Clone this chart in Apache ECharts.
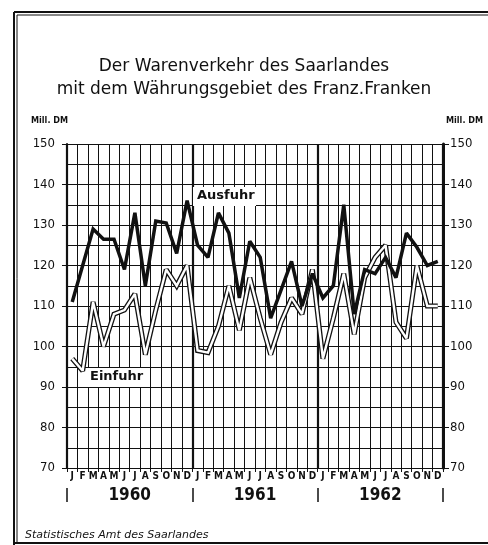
<!DOCTYPE html>
<html>
<head>
<meta charset="utf-8">
<script src="https://cdn.jsdelivr.net/npm/echarts@6/dist/echarts.min.js"></script>
<style>
  html, body { margin: 0; padding: 0; background: #fff; }
  #chart { width: 488px; height: 545px; }
</style>
</head>
<body>
<div id="chart"></div>
<script>
// Monatswerte in Mill. DM, Jan 1960 - Dez 1962
const years = ['1960', '1961', '1962']
const monthLetters = ['J', 'F', 'M', 'A', 'M', 'J', 'J', 'A', 'S', 'O', 'N', 'D']
const ausfuhr = [
  111, 120, 129, 126.5, 126.5, 119, 133, 115, 131, 130.5, 123, 136,
  125, 122, 133, 128, 112, 126, 122, 107, 114, 121, 110, 118,
  112, 115, 135, 108, 119, 118, 122, 117, 128, 124.5, 120, 121
]
const einfuhr = [
  97, 94, 111, 100, 108, 109, 113, 98, 109, 119, 115, 120,
  99, 98.5, 105, 115, 104, 117, 107, 98, 106, 112, 108, 119,
  97, 107, 118, 103, 117, 122, 125, 106, 102, 120, 110, 110
]
const yMin = 70
const yMax = 150
const yStep = 10

const categories = []
years.forEach(y => monthLetters.forEach((m, i) => categories.push(y + '-' + (i + 1))))

const ink = '#111'
const font = "'DejaVu Sans Condensed', 'Liberation Sans Narrow', 'DejaVu Sans', sans-serif"

const chart = echarts.init(document.getElementById('chart'))

const option = {
  animation: false,
  backgroundColor: '#fff',
  title: {
    text: 'Der Warenverkehr des Saarlandes\nmit dem Währungsgebiet des Franz.Franken',
    left: 'center',
    top: 50,
    textStyle: {
      fontFamily: 'DejaVu Sans, sans-serif',
      fontSize: 17,
      fontWeight: 'normal',
      lineHeight: 23,
      color: ink
    }
  },
  grid: { left: 67, right: 45, top: 144, bottom: 77 },
  xAxis: [
    {
      type: 'category',
      data: categories,
      boundaryGap: true,
      axisLine: { show: false },
      axisTick: { show: true, interval: 0, length: 4, lineStyle: { color: ink } },
      axisLabel: {
        interval: 0,
        margin: 3,
        fontSize: 10,
        fontWeight: 'bold',
        fontFamily: font,
        color: ink,
        formatter: v => monthLetters[Number(v.split('-')[1]) - 1]
      },
      splitLine: { show: true, interval: 0, lineStyle: { color: ink, width: 1 } }
    },
    {
      type: 'category',
      data: years,
      position: 'bottom',
      offset: 20,
      boundaryGap: true,
      axisLine: { show: false },
      axisTick: { show: true, interval: 0, length: 14, lineStyle: { color: ink, width: 1.5 } },
      axisLabel: {
        margin: -1,
        fontSize: 17,
        fontWeight: 'bold',
        fontFamily: font,
        color: ink
      },
      splitLine: { show: true, interval: 0, lineStyle: { color: ink, width: 2.2 } }
    }
  ],
  yAxis: [
    {
      type: 'value',
      position: 'left',
      min: yMin,
      max: yMax,
      interval: yStep,
      axisLine: { show: true, lineStyle: { color: ink, width: 2 } },
      axisTick: { show: true, length: 5, lineStyle: { color: ink } },
      axisLabel: { margin: 12, fontSize: 13, fontFamily: font, color: ink },
      splitLine: { show: true, lineStyle: { color: ink, width: 1 } },
      minorTick: { show: false, splitNumber: 2 },
      minorSplitLine: { show: true, lineStyle: { color: ink, width: 1 } }
    },
    {
      type: 'value',
      position: 'right',
      min: yMin,
      max: yMax,
      interval: yStep,
      axisLine: { show: true, lineStyle: { color: ink, width: 3 } },
      axisTick: { show: true, length: 6, lineStyle: { color: ink } },
      axisLabel: { margin: 7, fontSize: 13, fontFamily: font, color: ink },
      splitLine: { show: false }
    }
  ],
  series: [
    {
      name: 'Einfuhr Rand',
      type: 'line',
      data: einfuhr,
      symbol: 'none',
      silent: true,
      z: 2,
      lineStyle: { color: ink, width: 5, join: 'miter', miterLimit: 2 }
    },
    {
      name: 'Einfuhr',
      type: 'line',
      data: einfuhr,
      symbol: 'none',
      z: 3,
      lineStyle: { color: '#fff', width: 2.4, join: 'miter', miterLimit: 2 }
    },
    {
      name: 'Ausfuhr',
      type: 'line',
      data: ausfuhr,
      symbol: 'none',
      z: 4,
      lineStyle: { color: ink, width: 3.5, join: 'miter', miterLimit: 2 }
    }
  ],
  graphic: [
    // Rahmen
    { type: 'line', shape: { x1: 14, y1: 12, x2: 488, y2: 12 }, style: { stroke: ink, lineWidth: 2 } },
    { type: 'line', shape: { x1: 17, y1: 15, x2: 488, y2: 15 }, style: { stroke: ink, lineWidth: 1 } },
    { type: 'line', shape: { x1: 14, y1: 12, x2: 14, y2: 545 }, style: { stroke: ink, lineWidth: 2 } },
    { type: 'line', shape: { x1: 17, y1: 15, x2: 17, y2: 542 }, style: { stroke: ink, lineWidth: 1 } },
    { type: 'line', shape: { x1: 14, y1: 543, x2: 488, y2: 543 }, style: { stroke: ink, lineWidth: 2 } },
    // Einheiten
    { type: 'text', left: 31, top: 116, style: { text: 'Mill. DM', font: "bold 9px " + font, fill: ink } },
    { type: 'text', left: 446, top: 116, style: { text: 'Mill. DM', font: "bold 9px " + font, fill: ink } },
    // Beschriftungen der Linien
    { type: 'rect', shape: { x: 193, y: 187, width: 63, height: 19 }, style: { fill: '#fff' }, z: 10 },
    { type: 'text', left: 197, top: 189, z: 11, style: { text: 'Ausfuhr', font: "bold 13px 'DejaVu Sans', sans-serif", fill: ink } },
    { type: 'rect', shape: { x: 86, y: 368, width: 61, height: 19 }, style: { fill: '#fff' }, z: 10 },
    { type: 'text', left: 90, top: 370, z: 11, style: { text: 'Einfuhr', font: "bold 13px 'DejaVu Sans', sans-serif", fill: ink } },
    // Quelle
    { type: 'text', left: 25, top: 530, style: { text: 'Statistisches Amt des Saarlandes', font: "italic 11px 'DejaVu Sans', sans-serif", fill: ink } }
  ]
}

chart.setOption(option)
</script>
</body>
</html>
